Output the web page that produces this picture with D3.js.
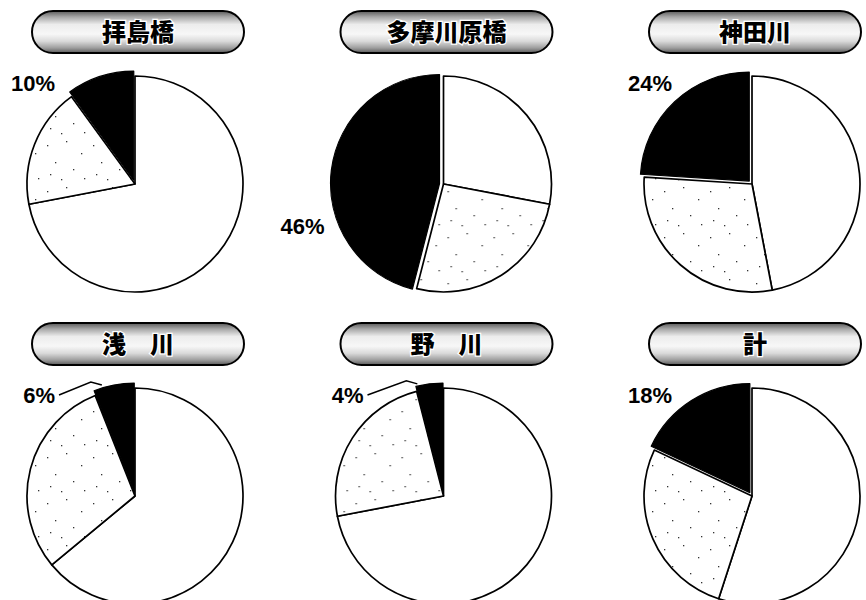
<!DOCTYPE html>
<html lang="ja">
<head>
<meta charset="utf-8">
<title>地点別構成比</title>
<script src="https://cdn.jsdelivr.net/npm/d3@7/dist/d3.min.js"></script>
<style>
  html, body { margin: 0; padding: 0; background: #fff; }
  svg { display: block; }
</style>
</head>
<body>
<svg id="chart" width="866" height="600"></svg>
<script>
// Survey points, one pie each (row by row)
const titles = ["拝島橋", "多摩川原橋", "神田川", "浅　川", "野　川", "計"];
// Shares in percent, drawn clockwise from 12 o'clock: white, stippled, black
const whiteShare   = [72, 28, 47, 64, 72, 55];
const dottedShare  = [18, 26, 29, 30, 24, 27];
const blackShare   = [10, 46, 24,  6,  4, 18];
const kinds = ["white", "dotted", "black"];

const svg = d3.select("#chart");
const defs = svg.append("defs");

// sparse stipple used for the middle slice
const stip = defs.append("pattern")
  .attr("id", "stipple").attr("patternUnits", "userSpaceOnUse")
  .attr("width", 46).attr("height", 46);
stip.append("rect").attr("width", 46).attr("height", 46).attr("fill", "#fff");
[[4,7],[23,3],[38,15],[12,24],[30,31],[18,41],[41,40],[7,36]]
  .forEach(([x, y]) => stip.append("rect")
    .attr("x", x).attr("y", y).attr("width", 1.3).attr("height", 1.3).attr("fill", "#333"));

// screened band fill of the title badges
const grad = defs.append("linearGradient")
  .attr("id", "badgeFill").attr("x1", 0).attr("y1", 0).attr("x2", 0).attr("y2", 1);
[[0, "#5a5a5a"], [0.14, "#a6a6a6"], [0.32, "#ececec"], [0.55, "#f7f7f7"],
 [0.72, "#dadada"], [0.88, "#9e9e9e"], [1, "#5a5a5a"]]
  .forEach(([o, c]) => grad.append("stop").attr("offset", o).attr("stop-color", c));

const xCol = d3.scalePoint().domain([0, 1, 2]).range([135, 752]);
const yRow = d3.scalePoint().domain([0, 1]).range([184, 496]);
const R = 108;

const pie = d3.pie().sort(null).value(d => d.v);
const arc = d3.arc().innerRadius(0).outerRadius(R);
const arcBlack = d3.arc().innerRadius(0).outerRadius(R + 1);

const fills = { white: "#fff", dotted: "url(#stipple)", black: "#000" };

titles.forEach((title, i) => {
  const cx = xCol(i % 3), cy = yRow(Math.floor(i / 3));
  const g = svg.append("g").attr("transform", `translate(${cx},${cy})`);

  const data = [whiteShare[i], dottedShare[i], blackShare[i]]
    .map((v, k) => ({ v, kind: kinds[k] }));
  const slices = pie(data);

  slices.forEach(s => {
    if (s.data.kind === "black") {
      // black slice is pulled slightly out of the pie
      const mid = (s.startAngle + s.endAngle) / 2;
      const off = 4;
      g.append("path")
        .attr("d", arcBlack(s))
        .attr("transform", `translate(${Math.sin(mid) * off},${-Math.cos(mid) * off})`)
        .attr("fill", "#000").attr("stroke", "#000").attr("stroke-width", 1.2)
        .attr("stroke-linejoin", "round");
    } else {
      g.append("path")
        .attr("d", arc(s))
        .attr("fill", fills[s.data.kind])
        .attr("stroke", "#000").attr("stroke-width", 1.7)
        .attr("stroke-linejoin", "round");
    }
  });

  // percentage label for the black slice
  const b = slices[2];
  const big = b.data.v > 40;
  g.append("text")
    .attr("x", big ? -119 : -80)
    .attr("y", big ? 50 : -93)
    .attr("text-anchor", "end")
    .attr("font-family", "'Liberation Sans', Arial, sans-serif")
    .attr("font-weight", "bold")
    .attr("font-size", 22)
    .attr("fill", "#000")
    .text(`${b.data.v}%`);

  // thin slices get a leader line to the rim
  if (b.data.v < 8) {
    const mid = (b.startAngle + b.endAngle) / 2;
    const rr = R + 5;
    const ex = Math.sin(mid) * rr - 12, ey = -Math.cos(mid) * rr;
    const pts = [[-76, -101], [ex - 11, ey - 3], [ex, ey]];
    g.append("path")
      .attr("d", d3.line()(pts))
      .attr("fill", "none").attr("stroke", "#000").attr("stroke-width", 1.5);
  }

  // title badge
  const bw = 212, bh = 42;
  const bx = 3 - bw / 2, by = -173;
  g.append("rect")
    .attr("x", bx).attr("y", by).attr("width", bw).attr("height", bh)
    .attr("rx", bh / 2).attr("ry", bh / 2)
    .attr("fill", "url(#badgeFill)")
    .attr("stroke", "#000").attr("stroke-width", 2);
  g.append("text")
    .attr("x", 3).attr("y", by + bh / 2)
    .attr("dy", "0.37em")
    .attr("text-anchor", "middle")
    .attr("font-family", "'Noto Sans CJK JP', sans-serif")
    .attr("font-weight", 900)
    .attr("font-size", 24)
    .attr("fill", "#000")
    .attr("stroke", "#fff").attr("stroke-width", 2.5)
    .attr("paint-order", "stroke")
    .text(title);
});
</script>
</body>
</html>
